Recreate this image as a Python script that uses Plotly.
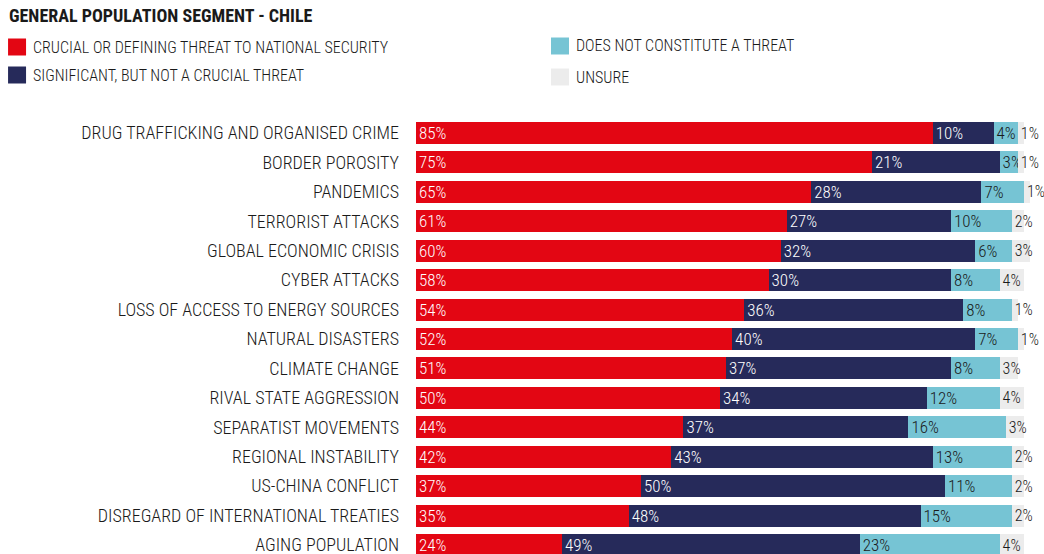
import plotly.graph_objects as go

categories = [
    "DRUG TRAFFICKING AND ORGANISED CRIME",
    "BORDER POROSITY",
    "PANDEMICS",
    "TERRORIST ATTACKS",
    "GLOBAL ECONOMIC CRISIS",
    "CYBER ATTACKS",
    "LOSS OF ACCESS TO ENERGY SOURCES",
    "NATURAL DISASTERS",
    "CLIMATE CHANGE",
    "RIVAL STATE AGGRESSION",
    "SEPARATIST MOVEMENTS",
    "REGIONAL INSTABILITY",
    "US-CHINA CONFLICT",
    "DISREGARD OF INTERNATIONAL TREATIES",
    "AGING POPULATION",
]
crucial = [85, 75, 65, 61, 60, 58, 54, 52, 51, 50, 44, 42, 37, 35, 24]
significant = [10, 21, 28, 27, 32, 30, 36, 40, 37, 34, 37, 43, 50, 48, 49]
not_threat = [4, 3, 7, 10, 6, 8, 8, 7, 8, 12, 16, 13, 11, 15, 23]
unsure = [1, 1, 1, 2, 3, 4, 1, 1, 3, 4, 3, 2, 2, 2, 4]

series = [
    ("CRUCIAL OR DEFINING THREAT TO NATIONAL SECURITY", crucial, "#e30613", "white", 17),
    ("SIGNIFICANT, BUT NOT A CRUCIAL THREAT", significant, "#262a5a", "white", 17),
    ("DOES NOT CONSTITUTE A THREAT", not_threat, "#76c4d4", "#1a1a1a", 17),
    ("UNSURE", unsure, "#ececec", "#1a1a1a", 16),
]

FONT = "Roboto Condensed, Liberation Sans, sans-serif"
W, H = 1044, 554
L, T, B = 416, 117, 0
UNIT = 6.08            # pixels per percentage point
XMAX = 101
PW = UNIT * XMAX
R = W - L - PW
PH = H - T - B
ROW = 29.43            # pixels per category row
FIRST = 133 - T        # offset of the first row centre below the plot top

fig = go.Figure()
for name, vals, color, tcolor, tsize in series:
    fig.add_trace(go.Bar(
        name=name,
        y=categories,
        x=vals,
        orientation="h",
        marker=dict(color=color, line=dict(width=0)),
        text=[f"{v}%" for v in vals],
        textposition="inside",
        insidetextanchor="start",
        textangle=0,
        textfont=dict(family=FONT, size=tsize, color=tcolor, weight=300),
        cliponaxis=False,
        showlegend=False,
        hoverinfo="skip",
    ))

top = -FIRST / ROW
fig.update_layout(
    width=W, height=H,
    margin=dict(l=L, r=R, t=T, b=B, pad=0),
    barmode="stack",
    bargap=0.25,
    plot_bgcolor="white",
    paper_bgcolor="white",
    uniformtext=dict(minsize=16, mode="show"),
    font=dict(family=FONT, color="#1a1a1a"),
    xaxis=dict(range=[0, XMAX], visible=False, fixedrange=True),
    yaxis=dict(
        range=[top + PH / ROW, top],
        showgrid=False, zeroline=False, showline=False,
        ticks="", ticklabelstandoff=16,
        tickfont=dict(family=FONT, size=18, color="#1a1a1a", weight=300),
        fixedrange=True,
    ),
)


def px_x(px):
    return (px - L) / PW


def px_y(py):
    return (H - B - py) / PH


# Title
fig.add_annotation(
    x=px_x(7), y=px_y(16), xref="paper", yref="paper",
    xanchor="left", yanchor="middle", showarrow=False,
    text="<b>GENERAL POPULATION SEGMENT - CHILE</b>",
    font=dict(family=FONT, size=18, color="#1a1a1a"),
)

# Legend: two columns of swatches with labels
legend_pos = [(8, 47), (8, 75), (551, 46), (551, 77)]
for (name, _, color, _, _), (lx, ly) in zip(series, legend_pos):
    fig.add_shape(
        type="rect", xref="paper", yref="paper",
        x0=px_x(lx), x1=px_x(lx + 18), y0=px_y(ly - 8.5), y1=px_y(ly + 8.5),
        fillcolor=color, line=dict(width=0),
    )
    fig.add_annotation(
        x=px_x(lx + 23), y=px_y(ly), xref="paper", yref="paper",
        xanchor="left", yanchor="middle", showarrow=False,
        text=name, font=dict(family=FONT, size=16, color="#1a1a1a", weight=300),
    )

fig.write_html("out.html")
